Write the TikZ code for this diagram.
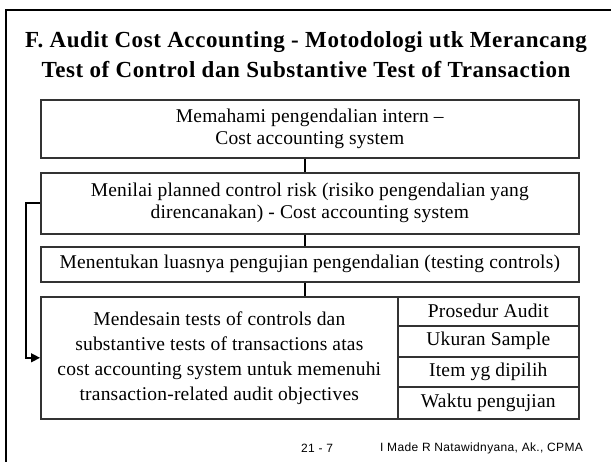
\documentclass[tikz,border=0pt]{standalone}
\usepackage{fontspec}
\setmainfont{Liberation Serif}
\newfontfamily\footfont{Liberation Sans}
\usetikzlibrary{arrows.meta}
\definecolor{boxline}{HTML}{333333}
\newcommand{\bodyfont}[1]{\fontsize{19.5}{#1}\selectfont\addfontfeature{LetterSpace=1}}
\begin{document}
\begin{tikzpicture}[x=1pt,y=-1pt,
  boxstyle/.style={draw=boxline,line width=1.6pt,rectangle,inner sep=0pt,anchor=north west,align=center,
    font=\bodyfont{22}},
  cellstyle/.style={draw=boxline,line width=1.6pt,rectangle,inner sep=0pt,anchor=north west,align=center,
    font=\bodyfont{20}},
  conn/.style={draw=black,line width=1.4pt},
  footstyle/.style={font=\footfont\fontsize{12}{12}\selectfont\addfontfeature{LetterSpace=3},anchor=west,inner sep=0pt}]
\useasboundingbox (0,0) rectangle (611,461);
\clip (0,0) rectangle (611,461);
\fill[white] (0,0) rectangle (611,461);
\draw[line width=2.2pt] (6,480) -- (6,10) -- (630,10);
\node[font=\bfseries\fontsize{23}{30}\selectfont\addfontfeature{LetterSpace=2.5},align=center] (title) at (306,55)
  {F. Audit Cost Accounting - Motodologi utk Merancang\\Test of Control dan Substantive Test of Transaction};
\node[boxstyle,minimum width=538pt,minimum height=58pt] (b1) at (40,99)
  {Memahami pengendalian intern --\\Cost accounting system};
\node[boxstyle,minimum width=538pt,minimum height=61pt] (b2) at (40,172)
  {Menilai planned control risk (risiko pengendalian yang\\direncanakan) - Cost accounting system};
\node[boxstyle,minimum width=538pt,minimum height=35pt] (b3) at (40,246)
  {Menentukan luasnya pengujian pengendalian (testing controls)};
\node[boxstyle,minimum width=357pt,minimum height=122pt,font=\bodyfont{25}] (b4) at (40,296)
  {\raisebox{-2pt}{\parbox{357pt}{\centering Mendesain tests of controls dan\\substantive tests of transactions atas\\cost accounting system untuk memenuhi\\transaction-related audit objectives}}};
\node[cellstyle,minimum width=181pt,minimum height=29pt] (c1) at (397,296) {Prosedur Audit};
\node[cellstyle,minimum width=181pt,minimum height=31pt] (c2) at (397,325) {Ukuran Sample};
\node[cellstyle,minimum width=181pt,minimum height=30pt] (c3) at (397,356) {Item yg dipilih};
\node[cellstyle,minimum width=181pt,minimum height=32pt] (c4) at (397,386) {Waktu pengujian};
\draw[conn] (b1.south -| 305,0) -- (b2.north -| 305,0);
\draw[conn] (b2.south -| 305,0) -- (b3.north -| 305,0);
\draw[conn] (b3.south -| 305,0) -- (b4.north -| 305,0);
\coordinate (fb) at (26,203);
\draw[conn,-{Triangle[length=9pt,width=9pt]}] (b2.west |- fb) -- (fb) |- (b4.west);
\node[footstyle] (pg) at (301,448) {21 - 7};
\node[footstyle] (au) at (380,448) {I Made R Natawidnyana, Ak., CPMA};
\end{tikzpicture}
\end{document}
